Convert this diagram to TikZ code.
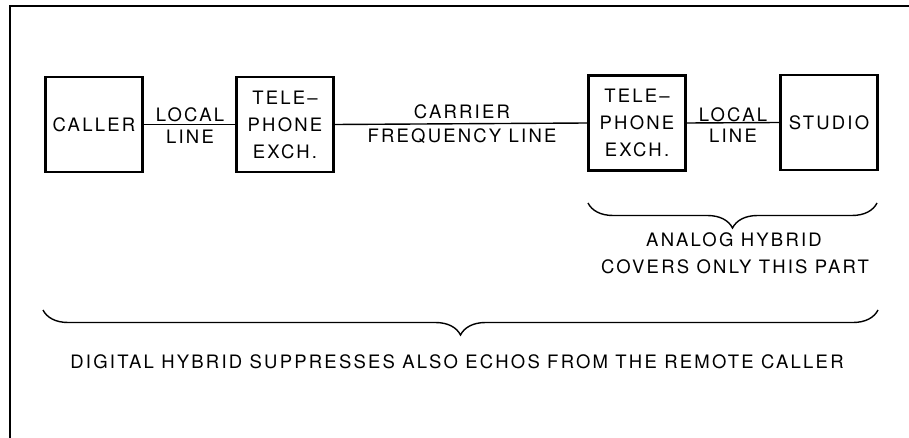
\documentclass[tikz,border=0pt]{standalone}
\usepackage{fontspec}
\setmainfont{TeX Gyre Heros}[LetterSpace=12]
\usetikzlibrary{decorations.pathreplacing}
\begin{document}
\begin{tikzpicture}[x=1pt,y=-1pt,
  every node/.style={font=\fontsize{18.5}{27}\selectfont, inner sep=0pt},
  blk/.style={draw, line width=2.6pt, minimum width=97pt, minimum height=95pt, align=center},
  wire/.style={line width=1.4pt},
  lbl/.style={anchor=base, align=center},
  brc/.style={line width=1.4pt, decorate, decoration={brace, mirror, amplitude=25pt}}]
\useasboundingbox (0,0) rectangle (909,438);
\draw[line width=1.8pt] (10,438) -- (10,6) -- (909,6);

\node[blk] (caller) at (94,124.5) {CALLER};
\node[blk] (tel1) at (285,124.5) {TELE--\\PHONE\\EXCH.};
\node[blk] (tel2) at (637,123) {TELE--\\PHONE\\EXCH.};
\node[blk] (studio) at (829,122.5) {STUDIO};

\draw[wire] (caller.east) -- (tel1.west);
\draw[wire] (tel1.east) -- (tel2.west);
\draw[wire] (tel2.east) -- (studio.west);

\node[lbl] (l1a) at (190,122) {LOCAL};
\node[lbl] (l1b) at (190,144) {LINE};
\node[lbl] (c1a) at (462,119) {CARRIER};
\node[lbl] (c1b) at (462,143) {FREQUENCY LINE};
\node[lbl] (l2a) at (733,122) {LOCAL};
\node[lbl] (l2b) at (733,143) {LINE};

\coordinate (b1l) at (588,203);
\coordinate (b1r) at (877,203);
\draw[brc] (b1l) -- (b1r);
\node[lbl] (an1) at (734,247) {ANALOG HYBRID};
\node[lbl] (an2) at (735,273) {COVERS ONLY THIS PART};

\coordinate (b2l) at (43,310);
\coordinate (b2r) at (878,310);
\draw[brc] (b2l) -- (b2r);
\node[lbl] (dg) at (457,368) {DIGITAL HYBRID SUPPRESSES ALSO ECHOS FROM THE REMOTE CALLER};
\end{tikzpicture}
\end{document}
